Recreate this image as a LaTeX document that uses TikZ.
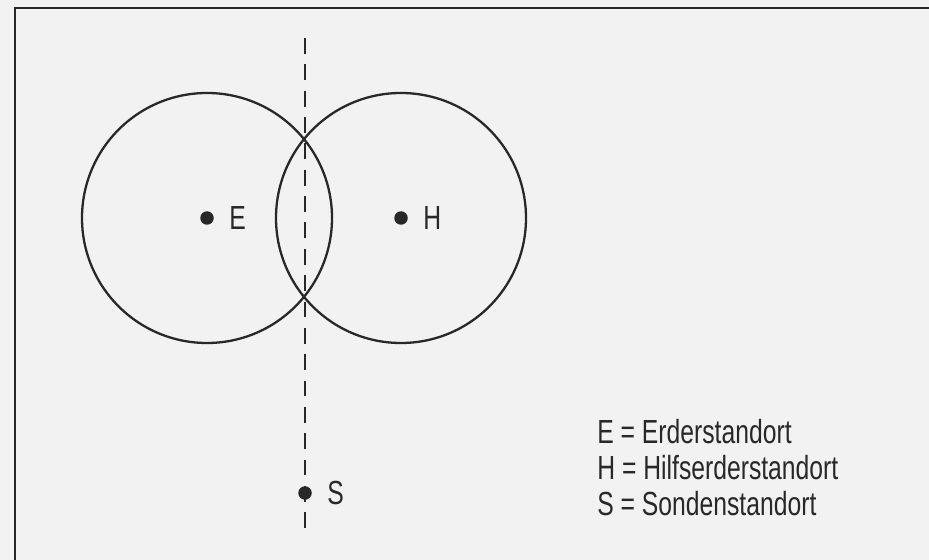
\documentclass[tikz,border=0pt]{standalone}
\usepackage{fontspec}
\setmainfont[FakeStretch=0.74]{Liberation Sans}
\usetikzlibrary{positioning}
\definecolor{papier}{RGB}{242, 242, 242}
\definecolor{strich}{RGB}{40, 40, 40}

\begin{document}
\begin{tikzpicture}[
                x=0.02cm, y=-0.02cm,
                punkt/.style={circle, fill=strich, inner sep=0pt, minimum size=0.27cm},
                kreis/.style={draw=strich, line width=1.3pt},
                marke/.style={inner sep=0pt, font=\fontsize{19}{22}\selectfont, text=strich},
                sonde/.style={draw=strich, line width=1.3pt, dash pattern=on 9pt off 6pt}
            ]
                % Hintergrund und Rahmen
                \fill[papier] (0,0) rectangle (929,560);
                \useasboundingbox (0,0) rectangle (929,560);
                \draw[strich, line width=1.6pt] (15,560) -- (15,8) -- (929,8);

                % Standorte
                \node[punkt] (E) at (207,218) {};
                \node[punkt] (H) at (401,218) {};
                \node[punkt] (S) at (305,493) {};
                \node[marke, right=0.3cm of E] (lE) {E};
                \node[marke, right=0.3cm of H] (lH) {H};
                \node[marke, right=0.3cm of S] (lS) {S};

                % Kreise um Erder und Hilfserder
                \draw[kreis] (E) circle (125);
                \draw[kreis] (H) circle (125);

                % Sondenlinie
                \coordinate (oben) at (305,38);
                \coordinate (unten) at (305,535);
                \draw[sonde] (oben) -- (unten);

                % Legende
                \node[marke, anchor=base west] (leg1) at (597,443) {E = Erderstandort};
                \node[marke, anchor=base west] (leg2) at (597,479) {H = Hilfserderstandort};
                \node[marke, anchor=base west] (leg3) at (597,515) {S = Sondenstandort};
            \end{tikzpicture}
\end{document}
